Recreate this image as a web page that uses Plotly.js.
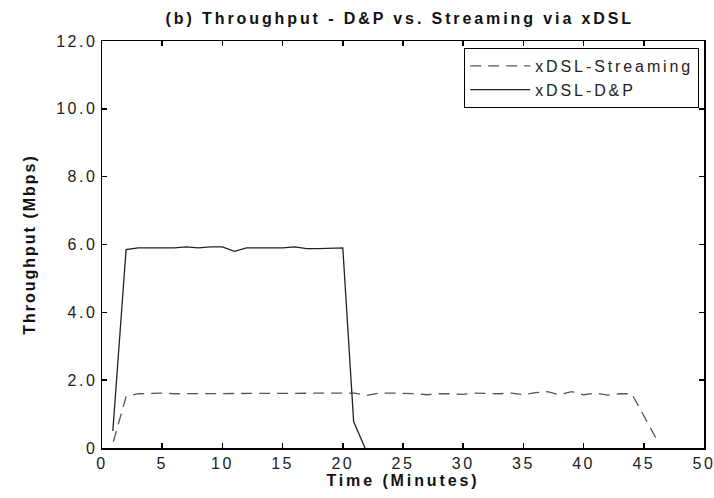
<!DOCTYPE html>
<html><head><meta charset="utf-8">
<script src="https://cdn.plot.ly/plotly-3.0.1.min.js"></script>
<style>
body{margin:0;background:#fff}#g{width:714px;height:498px}
.gtitle{letter-spacing:2.9px}
.xtitle{letter-spacing:2.9px}
.ytitle{letter-spacing:2px}
.xtick text,.ytick text{letter-spacing:2.5px}
.legendtext{letter-spacing:2.9px}
</style>
</head><body><div id="g"></div>
<script>
const dpTime = [0.9, 2, 3, 4, 5, 6, 7, 8, 9, 10, 11, 12, 13, 14, 15, 16, 17, 18, 19, 20, 20.9, 21.85];
const dpThroughput = [0.5, 5.85, 5.9, 5.9, 5.9, 5.9, 5.93, 5.9, 5.93, 5.93, 5.8, 5.9, 5.9, 5.9, 5.9, 5.93, 5.88, 5.88, 5.88, 5.9, 0.78, 0];
const stTime = [0.94, 2, 3, 4, 5, 6, 7, 8, 9, 10, 11, 12, 13, 14, 15, 16, 17, 18, 19, 20, 21, 22, 23, 24, 25, 26, 27, 28, 29, 30, 31, 32, 33, 34, 35, 36, 37, 38, 39, 40, 41, 42, 43, 44, 46];
const stThroughput = [0.19, 1.51, 1.6, 1.62, 1.62, 1.6, 1.6, 1.6, 1.6, 1.62, 1.62, 1.6, 1.6, 1.62, 1.6, 1.6, 1.62, 1.62, 1.6, 1.6, 1.62, 1.55, 1.62, 1.62, 1.62, 1.6, 1.57, 1.6, 1.6, 1.58, 1.62, 1.6, 1.6, 1.62, 1.57, 1.63, 1.66, 1.57, 1.66, 1.57, 1.62, 1.56, 1.6, 1.6, 0.3];
const xTicks = [0, 5, 10, 15, 20, 25, 30, 35, 40, 45, 50];
const yTicks = [0, 2, 4, 6, 8, 10, 12];
const yTickText = ["0", "2.0", "4.0", "6.0", "8.0", "10.0", "12.0"];

const font = "Liberation Sans, Arial, sans-serif";
const traces = [
  {x: stTime, y: stThroughput, mode: "lines", name: "xDSL-Streaming",
   line: {color: "#555", width: 1.3, dash: "11px,7px"}},
  {x: dpTime, y: dpThroughput, mode: "lines", name: "xDSL-D&P",
   line: {color: "#222", width: 1.3}}
];
const axisCommon = {
  showline: true, linecolor: "#000", linewidth: 1.5, mirror: "ticks",
  ticks: "inside", ticklen: 5, tickcolor: "#000", tickwidth: 1.5,
  showgrid: false, zeroline: false, ticklabeloverflow: "allow",
  tickfont: {family: font, size: 16, color: "#222"}
};
const layout = {
  width: 714, height: 498,
  margin: {l: 102, r: 10, t: 41, b: 50},
  paper_bgcolor: "#fff", plot_bgcolor: "#fff",
  title: {text: "<b>(b) Throughput - D&P vs. Streaming via xDSL</b>", x: 0.56, xanchor: "center", y: 0.963, yanchor: "middle",
          font: {family: font, size: 16, color: "#111"}},
  xaxis: Object.assign({}, axisCommon, {range: [0, 50], tickvals: xTicks, ticktext: xTicks.map(String),
          title: {text: "<b>Time (Minutes)</b>", standoff: 2, font: {family: font, size: 16, color: "#111"}}}),
  yaxis: Object.assign({}, axisCommon, {range: [0, 12], tickvals: yTicks, ticktext: yTickText,
          title: {text: "<b>Throughput (Mbps)</b>", standoff: 16, font: {family: font, size: 16, color: "#111"}}}),
  legend: {x: 0.992, y: 0.983, xanchor: "right", yanchor: "top", bgcolor: "#fff",
           bordercolor: "#000", borderwidth: 1, tracegroupgap: 0, itemwidth: 60,
           font: {family: font, size: 16, color: "#222"}},
  showlegend: true
};
Plotly.newPlot("g", traces, layout, {staticPlot: true});
</script></body></html>
